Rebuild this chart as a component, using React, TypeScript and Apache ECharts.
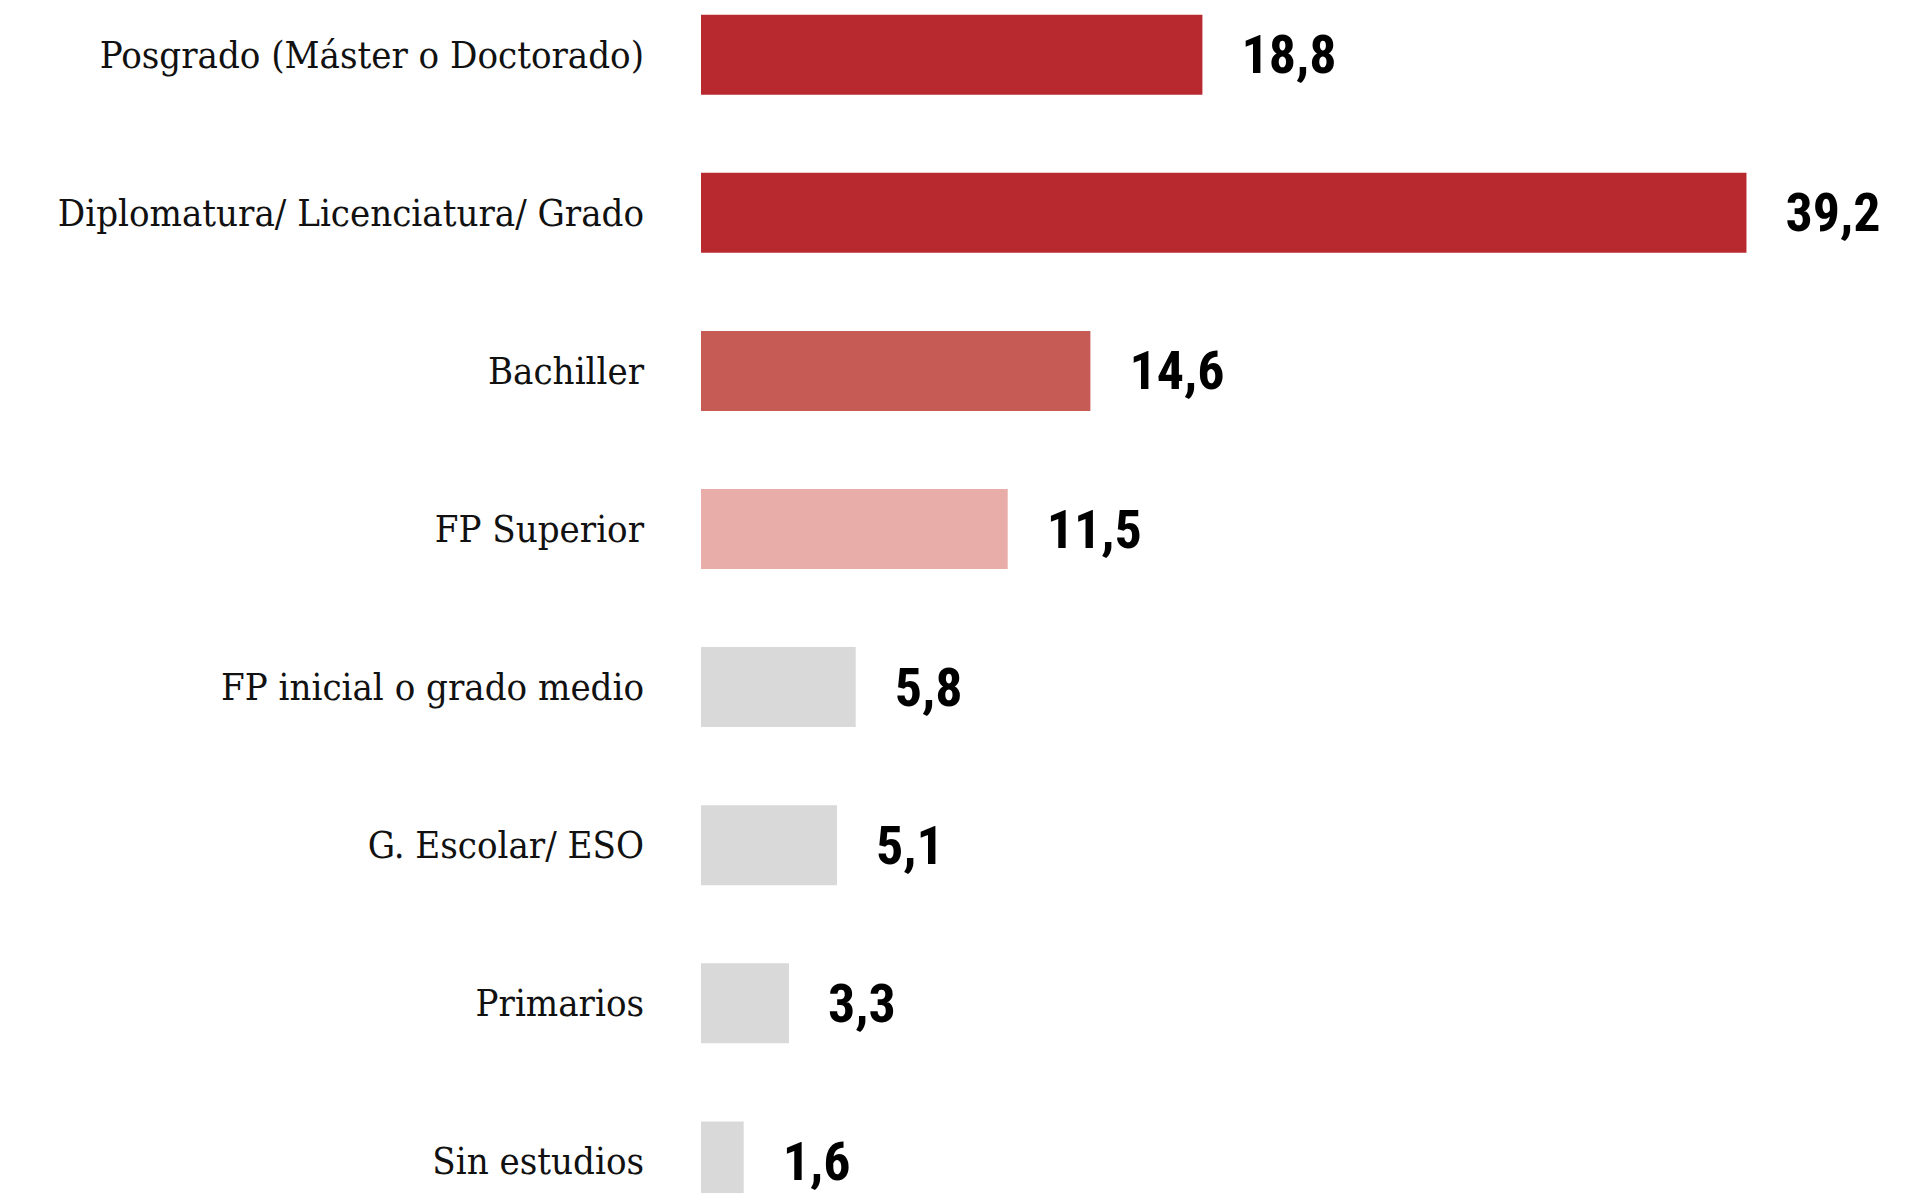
import React, { useEffect, useRef } from "react";
import * as echarts from "echarts";

const categories = [
  "Posgrado (Máster o Doctorado)",
  "Diplomatura/ Licenciatura/ Grado",
  "Bachiller",
  "FP Superior",
  "FP inicial o grado medio",
  "G. Escolar/ ESO",
  "Primarios",
  "Sin estudios",
];
const values = [18.8, 39.2, 14.6, 11.5, 5.8, 5.1, 3.3, 1.6];
const colors = ["#B7282F", "#B7282F", "#C65A55", "#E8ADA8", "#D9D9D9", "#D9D9D9", "#D9D9D9", "#D9D9D9"];

export default function App() {
  const ref = useRef<HTMLDivElement>(null);
  useEffect(() => {
    if (!ref.current) return;
    const chart = echarts.init(ref.current, undefined, { renderer: "svg" });
    const band = 158.1;
    chart.setOption({
      animation: false,
      backgroundColor: "#ffffff",
      grid: {
        left: 701,
        top: 54.7 - band / 2,
        height: band * categories.length,
        width: 40 * 26.67,
        outerBoundsMode: "none",
        containLabel: false,
      },
      xAxis: { type: "value", min: 0, max: 40, show: false },
      yAxis: {
        type: "category",
        data: categories,
        inverse: true,
        axisLine: { show: false },
        axisTick: { show: false },
        axisLabel: {
          margin: 57,
          fontSize: 38,
          padding: [6, 0, 0, 0],
          color: "#111111",
          fontFamily: "'Roboto Slab', 'DejaVu Serif Condensed', 'Liberation Serif', serif",
        },
      },
      series: [
        {
          type: "bar",
          barWidth: 80,
          data: values.map((v, i) => ({ value: v, itemStyle: { color: colors[i] } })),
          label: {
            show: true,
            position: "right",
            distance: 39,
            fontSize: 54,
            fontWeight: "bold",
            color: "#000000",
            padding: [3, 0, 0, 0],
            fontFamily: "'Roboto Condensed', 'Liberation Sans Narrow', 'DejaVu Sans Condensed', Roboto, sans-serif",
            formatter: (p: any) => String(p.value).replace(".", ","),
          },
        },
      ],
    });
    return () => chart.dispose();
  }, []);
  return <div ref={ref} style={{ position: "absolute", left: 0, top: 0, width: 1926, height: 1193 }} />;
}
